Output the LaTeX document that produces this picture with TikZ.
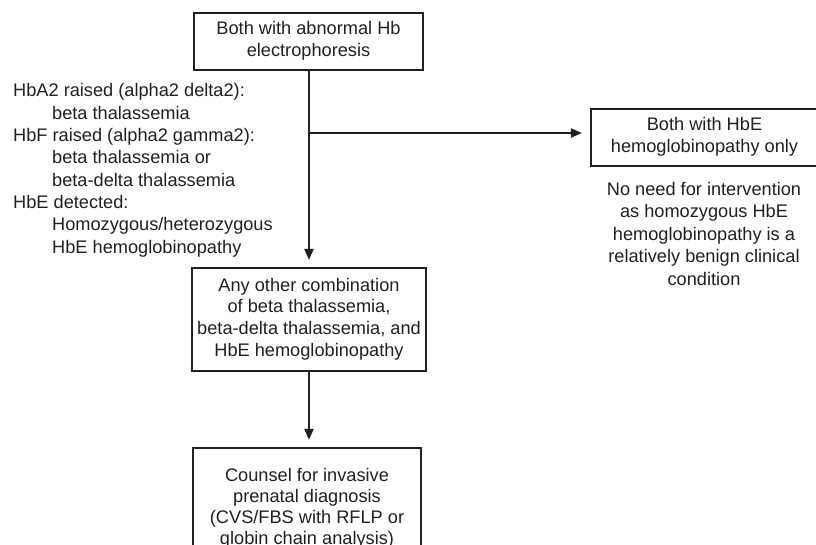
\documentclass[tikz,border=0pt]{standalone}
\usepackage{fontspec}
\setmainfont{Liberation Sans}
\usetikzlibrary{arrows.meta}
\definecolor{ink}{HTML}{231F20}
\newcommand{\boxtext}[2]{\raisebox{#1}{\begin{tabular}{@{}c@{}}#2\end{tabular}}}
\begin{document}
\begin{tikzpicture}[x=1pt,y=-1pt,
  every node/.style={text=ink, inner sep=0pt},
  box/.style={draw=ink, line width=2.2pt, font=\fontsize{18.2}{21.7}\selectfont},
  free/.style={font=\fontsize{18.2}{22.4}\selectfont},
  arr/.style={draw=ink, line width=2.1pt, -{Triangle[length=11pt,width=9pt]}}]
\useasboundingbox (0,0) rectangle (816,544);
\node[box, minimum width=229pt, minimum height=57pt] (top) at (308.5,41.5)
  {\boxtext{-2pt}{Both with abnormal Hb\\electrophoresis}};
\node[box, minimum width=234pt, minimum height=103pt] (mid) at (309,319.5)
  {\boxtext{-3.7pt}{Any other combination\\of beta thalassemia,\\beta-delta thalassemia, and\\HbE hemoglobinopathy}};
\node[box, minimum width=227pt, minimum height=57pt] (right) at (704.5,137.5)
  {\boxtext{-1pt}{Both with HbE\\hemoglobinopathy only}};
\node[box, font=\fontsize{18.2}{21.1}\selectfont, minimum width=228pt, minimum height=121pt] (bot) at (307,508.5)
  {\boxtext{7pt}{Counsel for invasive\\prenatal diagnosis\\(CVS/FBS with RFLP or\\globin chain analysis)}};
\node[free, font=\fontsize{18.2}{22.5}\selectfont] (note) at (704,235.5)
  {\begin{tabular}{@{}c@{}}No need for intervention\\as homozygous HbE\\hemoglobinopathy is a\\relatively benign clinical\\condition\end{tabular}};
\node[free, font=\fontsize{18.2}{22.3}\selectfont, anchor=west] (left) at (13,170.5)
  {\begin{tabular}{@{}l@{}}HbA2 raised (alpha2 delta2):\\\hspace*{39pt}beta thalassemia\\HbF raised (alpha2 gamma2):\\\hspace*{39pt}beta thalassemia or\\\hspace*{39pt}beta-delta thalassemia\\HbE detected:\\\hspace*{39pt}Homozygous/heterozygous\\\hspace*{39pt}HbE hemoglobinopathy\end{tabular}};
\coordinate (br) at (309,133);
\draw[arr, shorten >=7pt] (top.south -| br) -- (br |- mid.north);
\draw[arr, shorten >=8pt] (br) -- (br -| right.west);
\draw[arr, shorten >=7pt] (mid.south -| br) -- (br |- bot.north);
\end{tikzpicture}
\end{document}
